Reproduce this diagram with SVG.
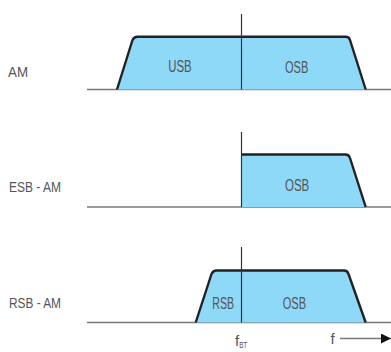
<svg xmlns="http://www.w3.org/2000/svg" width="391" height="352" viewBox="0 0 391 352">
<defs>
<style>
.lbl{font-family:"Liberation Sans",Arial,sans-serif;font-size:15px;fill:#555}
.bl{font-size:16px}
.band{fill:#8ed8f8;stroke:#222;stroke-width:2.4;stroke-linejoin:round}
.fill{fill:#8ed8f8;stroke:none}
.edge{fill:none;stroke:#222;stroke-width:2.4;stroke-linejoin:round}
.base{stroke:#777;stroke-width:1.5;fill:none}
.axis{stroke:#333;stroke-width:1.2;fill:none}
</style>
<marker id="ah" viewBox="0 0 10 10" refX="10" refY="5" markerWidth="13" markerHeight="10" markerUnits="userSpaceOnUse" orient="auto"><path d="M0,0 L10,5 L0,10 Z" fill="#111"/></marker>
</defs>
<g id="connectors">
<line class="base" x1="87" y1="89.5" x2="391" y2="89.5"/>
<line class="base" x1="87" y1="207" x2="391" y2="207"/>
<line class="base" x1="87" y1="322.5" x2="391" y2="322.5"/>
<line x1="340" y1="338.5" x2="391" y2="338.5" stroke="#777" stroke-width="1.5" marker-end="url(#ah)"/>
</g>
<g id="am">
<path class="band" d="M117,89.5 L132.5,40 Q134,36.7 137.5,36.7 L345.5,36.7 Q349,36.7 350,40 L365.7,89.5"/>
<line class="axis" x1="241.5" y1="14" x2="241.5" y2="89.5"/>
<text class="lbl bl" x="168.3" y="72.3" textLength="23.4" lengthAdjust="spacingAndGlyphs">USB</text>
<text class="lbl bl" x="285" y="72.5" textLength="23.3" lengthAdjust="spacingAndGlyphs">OSB</text>
<text class="lbl" x="8" y="76.7" textLength="20" lengthAdjust="spacingAndGlyphs">AM</text>
</g>
<g id="esb">
<path class="fill" d="M241.5,207 L241.5,154.5 L345.5,154.5 Q349,154.5 350,158 L365.7,207 Z"/>
<path class="edge" d="M241.5,154.5 L345.5,154.5 Q349,154.5 350,158 L365.7,207"/>
<line class="axis" x1="241.5" y1="132" x2="241.5" y2="207"/>
<text class="lbl bl" x="285" y="191" textLength="24.3" lengthAdjust="spacingAndGlyphs">OSB</text>
<text class="lbl" x="9" y="192.3" textLength="52" lengthAdjust="spacingAndGlyphs">ESB - AM</text>
</g>
<g id="rsb">
<path class="band" d="M195.7,322.5 L211.5,274 Q213,270.5 216.5,270.5 L344,270.5 Q347.5,270.5 348.5,274 L365.7,322.5"/>
<line class="axis" x1="241.5" y1="247" x2="241.5" y2="322.5"/>
<text class="lbl bl" x="212.3" y="309" textLength="21.7" lengthAdjust="spacingAndGlyphs">RSB</text>
<text class="lbl bl" x="282.7" y="309" textLength="23.3" lengthAdjust="spacingAndGlyphs">OSB</text>
<text class="lbl" x="9" y="308" textLength="52" lengthAdjust="spacingAndGlyphs">RSB - AM</text>
</g>
<g id="freq">
<text class="lbl" x="235" y="345.5">f<tspan font-size="9" dy="2.5" textLength="8" lengthAdjust="spacingAndGlyphs">BT</tspan></text>
<text class="lbl" x="330.5" y="344">f</text>
</g>
</svg>
